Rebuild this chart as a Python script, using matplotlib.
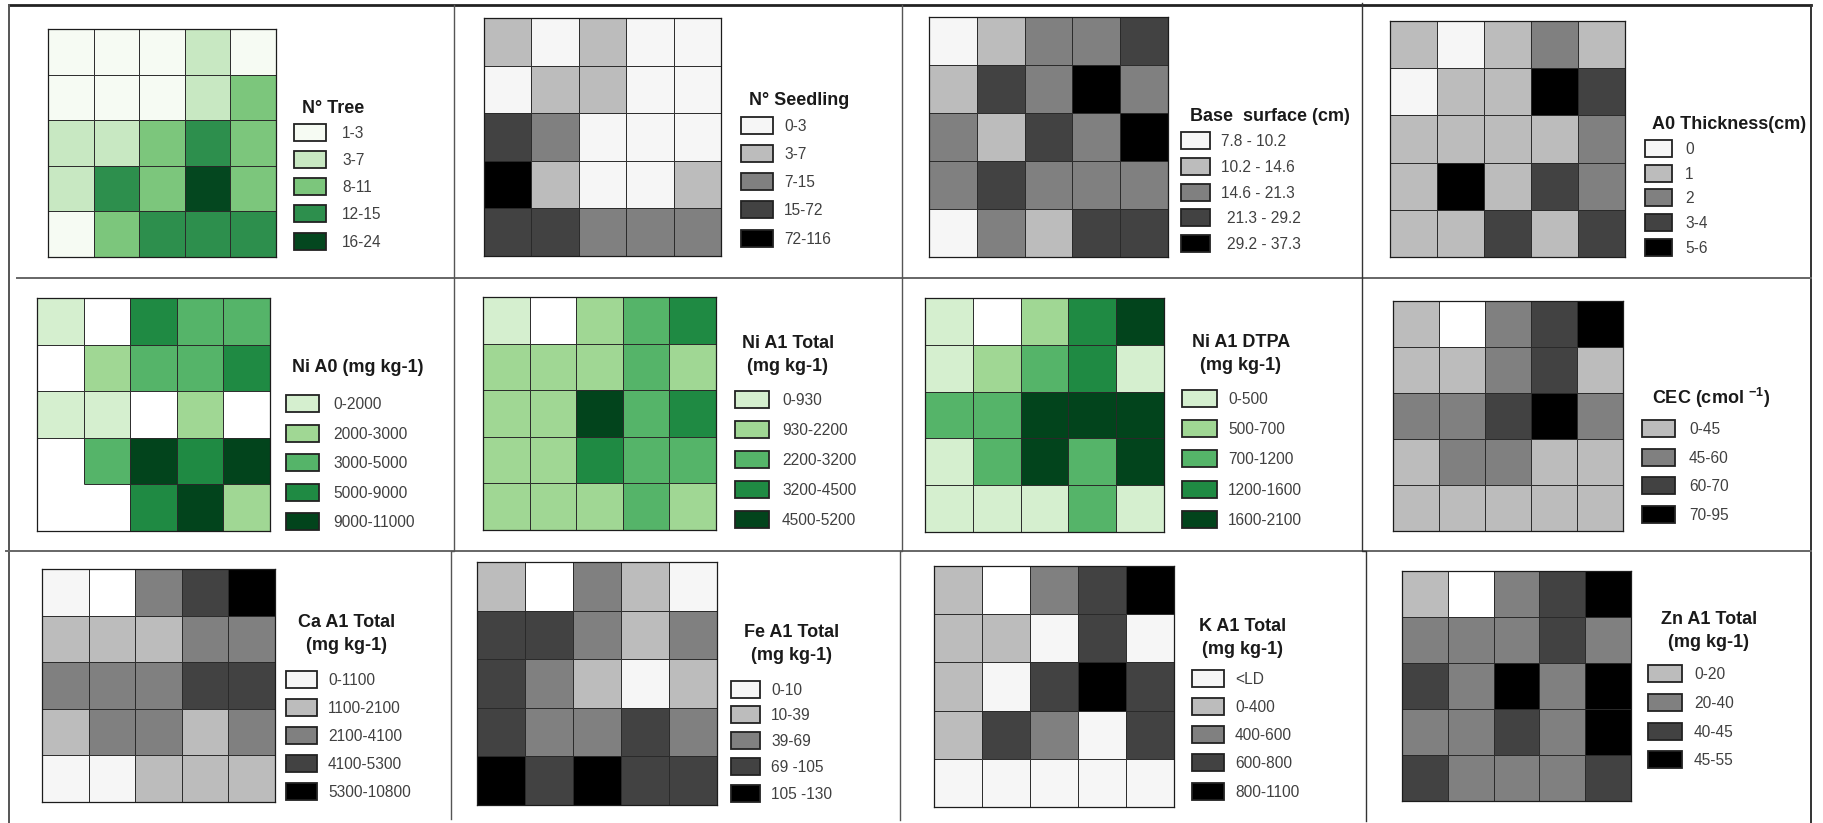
import numpy as np
import matplotlib
matplotlib.use('Agg')
import matplotlib.pyplot as plt
from matplotlib.colors import ListedColormap
from matplotlib.patches import Rectangle

plt.rcParams['font.family'] = ['Liberation Sans', 'DejaVu Sans']
plt.rcParams['mathtext.fontset'] = 'custom'
plt.rcParams['mathtext.bf'] = 'Liberation Sans:bold'
plt.rcParams['mathtext.rm'] = 'Liberation Sans'

W_PX, H_PX = 1824, 823

# colours, first entry is the plain white cell (value -1)
greenA = ['#ffffff', '#f6fbf3', '#c8e8c2', '#7cc67c', '#2d8f4d', '#04471f']
greenB = ['#ffffff', '#d5efcf', '#a0d794', '#55b469', '#1f8a43', '#02441c']
grey = ['#ffffff', '#f6f6f6', '#bcbcbc', '#808080', '#424242', '#000000']

# titles, legend labels
titles = ['N° Tree', 'N° Seedling', 'Base  surface (cm)', 'A0 Thickness(cm)',
          'Ni A0 (mg kg-1)', 'Ni A1 Total\n(mg kg-1)', 'Ni A1 DTPA\n(mg kg-1)',
          'CEC (cmol $^{\\mathbf{-1}}$)',
          'Ca A1 Total\n(mg kg-1)', 'Fe A1 Total\n(mg kg-1)',
          'K A1 Total\n(mg kg-1)', 'Zn A1 Total\n(mg kg-1)']
labels = [
    ['1-3', '3-7', '8-11', '12-15', '16-24'],
    ['0-3', '3-7', '7-15', '15-72', '72-116'],
    ['7.8 - 10.2', '10.2 - 14.6', '14.6 - 21.3', '21.3 - 29.2', '29.2 - 37.3'],
    ['0', '1', '2', '3-4', '5-6'],
    ['0-2000', '2000-3000', '3000-5000', '5000-9000', '9000-11000'],
    ['0-930', '930-2200', '2200-3200', '3200-4500', '4500-5200'],
    ['0-500', '500-700', '700-1200', '1200-1600', '1600-2100'],
    ['0-45', '45-60', '60-70', '70-95'],
    ['0-1100', '1100-2100', '2100-4100', '4100-5300', '5300-10800'],
    ['0-10', '10-39', '39-69', '69 -105', '105 -130'],
    ['<LD', '0-400', '400-600', '600-800', '800-1100'],
    ['0-20', '20-40', '40-45', '45-55'],
]
# class of each legend entry
legendClass = [[0, 1, 2, 3, 4]] * 7 + [[1, 2, 3, 4]] + [[0, 1, 2, 3, 4]] * 3 + [[1, 2, 3, 4]]

# class of each plot, top row first
tree = [[0, 0, 0, 1, 0], [0, 0, 0, 1, 2], [1, 1, 2, 3, 2], [1, 3, 2, 4, 2], [0, 2, 3, 3, 3]]
seedling = [[1, 0, 1, 0, 0], [0, 1, 1, 0, 0], [3, 2, 0, 0, 0], [4, 1, 0, 0, 1], [3, 3, 2, 2, 2]]
baseSurface = [[0, 1, 2, 2, 3], [1, 3, 2, 4, 2], [2, 1, 3, 2, 4], [2, 3, 2, 2, 2], [0, 2, 1, 3, 3]]
a0Thickness = [[1, 0, 1, 2, 1], [0, 1, 1, 4, 3], [1, 1, 1, 1, 2], [1, 4, 1, 3, 2], [1, 1, 3, 1, 3]]
niA0 = [[0, -1, 3, 2, 2], [-1, 1, 2, 2, 3], [0, 0, -1, 1, -1], [-1, 2, 4, 3, 4], [-1, -1, 3, 4, 1]]
niA1Total = [[0, -1, 1, 2, 3], [1, 1, 1, 2, 1], [1, 1, 4, 2, 3], [1, 1, 3, 2, 2], [1, 1, 1, 2, 1]]
niA1Dtpa = [[0, -1, 1, 3, 4], [0, 1, 2, 3, 0], [2, 2, 4, 4, 4], [0, 2, 4, 2, 4], [0, 0, 0, 2, 0]]
cec = [[1, -1, 2, 3, 4], [1, 1, 2, 3, 1], [2, 2, 3, 4, 2], [1, 2, 2, 1, 1], [1, 1, 1, 1, 1]]
caA1 = [[0, -1, 2, 3, 4], [1, 1, 1, 2, 2], [2, 2, 2, 3, 3], [1, 2, 2, 1, 2], [0, 0, 1, 1, 1]]
feA1 = [[1, -1, 2, 1, 0], [3, 3, 2, 1, 2], [3, 2, 1, 0, 1], [3, 2, 2, 3, 2], [4, 3, 4, 3, 3]]
kA1 = [[1, -1, 2, 3, 4], [1, 1, 0, 3, 0], [1, 0, 3, 4, 3], [1, 3, 2, 0, 3], [0, 0, 0, 0, 0]]
znA1 = [[1, -1, 2, 3, 4], [2, 2, 2, 3, 2], [3, 2, 4, 2, 4], [2, 2, 3, 2, 4], [3, 2, 2, 2, 3]]

grids = [tree, seedling, baseSurface, a0Thickness, niA0, niA1Total, niA1Dtpa, cec,
         caA1, feA1, kA1, znA1]
palettes = [greenA, grey, grey, grey, greenB, greenB, greenB, grey, grey, grey, grey, grey]

# layout in pixels: plot box x0, x1, y0, y1
boxes = [(48, 276, 29, 257), (484, 721, 18, 256), (929, 1168, 17, 257), (1390, 1625, 21, 257),
         (37, 270, 298, 531), (483, 716, 297, 530), (925, 1164, 298, 532), (1393, 1623, 301, 531),
         (42, 275, 569, 802), (477, 717, 562, 805), (934, 1174, 566, 807), (1402, 1631, 571, 801)]
# legend swatch x0, x1 and the label x
swatchX = [(294, 326, 342), (741, 773, 784), (1181, 1210, 1221), (1645, 1672, 1685),
           (286, 319, 333), (735, 769, 782), (1182, 1217, 1228), (1642, 1675, 1689),
           (286, 317, 328), (731, 760, 771), (1192, 1224, 1235), (1648, 1682, 1694)]
swatchY = [[132, 159, 186, 213, 241], [125, 153, 181, 209, 238], [140, 166, 192, 217, 243],
           [148, 173, 197, 222, 247], [403, 433, 462, 492, 521], [399, 429, 459, 489, 519],
           [398, 428, 458, 489, 519], [428, 457, 485, 514], [679, 707, 735, 763, 791],
           [689, 714, 740, 766, 793], [678, 706, 734, 762, 791], [673, 702, 731, 759]]
# title centre
titleXY = [(333, 108), (799, 100), (1270, 116), (1729, 124),
           (358, 367), (788, 355), (1241, 354), (1711, 398),
           (347, 634), (792, 644), (1243, 638), (1709, 631)]


def addGrid(box, values, palette):
    x0, x1, y0, y1 = box
    ax = fig.add_axes([x0 / W_PX, 1 - y1 / H_PX, (x1 - x0) / W_PX, (y1 - y0) / H_PX])
    v = np.array(values)
    ax.pcolormesh(v, cmap=ListedColormap(palette), vmin=-1.5, vmax=4.5)
    # inner lines, none between two white cells
    for r in range(v.shape[0]):
        for c in range(v.shape[1]):
            if c > 0 and not (v[r, c] == -1 and v[r, c - 1] == -1):
                ax.plot([c, c], [r, r + 1], color='#2a2a2a', lw=0.7, solid_capstyle='butt')
            if r > 0 and not (v[r, c] == -1 and v[r - 1, c] == -1):
                ax.plot([c, c + 1], [r, r], color='#2a2a2a', lw=0.7, solid_capstyle='butt')
    ax.set_xlim(0, v.shape[1])
    ax.set_ylim(v.shape[0], 0)
    ax.set_xticks([])
    ax.set_yticks([])
    for s in ax.spines.values():
        s.set_linewidth(0.9)
        s.set_color('#1c1c1c')


fig = plt.figure(figsize=(W_PX / 100, H_PX / 100), dpi=100, facecolor='white')

# overlay in pixel coordinates for the frame and the legends
over = fig.add_axes([0, 0, 1, 1], zorder=5)
over.set_xlim(0, W_PX)
over.set_ylim(H_PX, 0)
over.axis('off')

# frame of the table
over.plot([9, 1811], [5, 5], color='#222222', lw=2)
over.plot([9, 9], [5, 823], color='#555555', lw=1.4)
over.plot([1811, 1811], [5, 823], color='#333333', lw=1.4)
over.plot([17, 1811], [278, 278], color='#666666', lw=1.4)
over.plot([6, 1811], [551, 551], color='#666666', lw=1.4)
over.plot([454, 454, 451, 451], [5, 551, 551, 819], color='#555555', lw=1)
over.plot([902, 902, 900, 900], [5, 551, 551, 820], color='#555555', lw=1)
over.plot([1362, 1362, 1366, 1366], [3, 551, 551, 821], color='#333333', lw=1)

for i in range(len(grids)):
    addGrid(boxes[i], grids[i], palettes[i])
    x0, x1, xText = swatchX[i]
    for k, yc in enumerate(swatchY[i]):
        over.add_patch(Rectangle((x0, yc - 8.5), x1 - x0, 17, facecolor=palettes[i][legendClass[i][k] + 1],
                                 edgecolor='#222222', lw=1.3))
        # the last two labels of the base surface legend sit a bit further right
        nudge = 6 if i == 2 and k >= 3 else 0
        over.text(xText + nudge, yc + 1.5, labels[i][k], fontsize=11.2, color='#404040', ha='left', va='center')
    over.text(titleXY[i][0], titleXY[i][1], titles[i], fontsize=13, fontweight='bold', color='#1a1a1a',
              ha='center', va='center', linespacing=1.4)

fig.savefig('out.png', dpi=100)
